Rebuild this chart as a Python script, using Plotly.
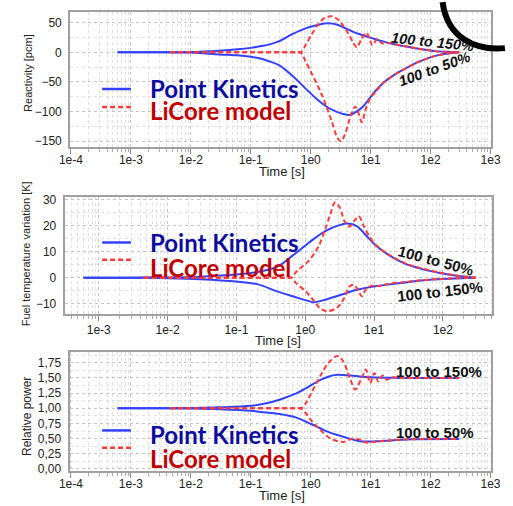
import plotly.graph_objects as go

W, H = 513, 506

# ---------------- data ----------------
# Panel 1: Reactivity [pcm]
react_pk_up_t = [6e-4, 3e-3, 1e-2, 0.03, 0.06, 0.1, 0.15, 0.2, 0.3, 0.5, 0.8, 1.3, 1.9, 2.8, 3.5, 5, 6.6, 9, 12, 16, 22, 30, 42, 60, 80, 120, 180, 300]
react_pk_up_v = [0, 0, 0.5, 2.8, 5, 7.5, 10.5, 13, 19, 31, 40, 46, 49, 46.5, 42, 35, 30.5, 26, 22, 18.5, 15, 12, 9.4, 6.5, 4.5, 2, 0.8, 0]
react_pk_dn_t = [6e-4, 3e-3, 1e-2, 0.03, 0.06, 0.1, 0.15, 0.2, 0.3, 0.5, 0.8, 1.3, 2, 2.8, 3.6, 4.6, 5.8, 7.4, 9.5, 12.3, 16, 22, 30, 42, 60, 80, 120, 180, 300]
react_pk_dn_v = [0, 0, -0.5, -3.5, -5, -7.5, -11, -15, -22, -40, -60, -80, -94, -101, -104.5, -105.5, -100, -92, -78, -64, -52, -41.5, -33, -25, -17, -12, -6, -2.5, 0]
react_lc_up_t = [4.5e-3, 0.1, 0.5, 0.68, 0.81, 1.04, 1.33, 1.7, 2.2, 2.7, 3.2, 4.3, 5.2, 5.9, 7.0, 8.5, 9.5, 10.7, 12.9, 15.5, 20, 30, 42, 60, 80, 120, 180, 300]
react_lc_up_v = [0, 0, 0, 0, 11, 30.5, 47, 58, 61, 57, 50, 30.5, 15, 8.3, 22, 33, 24, 12, 22, 15, 15.5, 12, 9.4, 6.5, 4.5, 2, 0.8, 0]
react_lc_dn_t = [4.5e-3, 0.1, 0.5, 0.68, 0.81, 1.04, 1.5, 2.2, 2.8, 3.2, 3.8, 4.6, 5.5, 6.4, 7.1, 8.5, 10.2, 12.3, 16, 22, 30, 42, 60, 80, 120, 180, 300]
react_lc_dn_v = [0, 0, 0, 0, -14, -36, -69.5, -114, -144.5, -150, -136, -108, -91.7, -105, -118, -92, -75, -66, -52, -41.5, -33, -25, -17, -12, -6, -2.5, 0]

# Panel 2: Fuel temperature variation [K]
temp_pk_up_t = [6e-4, 3e-3, 1e-2, 0.03, 0.1, 0.2, 0.39, 0.66, 1.14, 1.95, 3.3, 4.1, 5.6, 7.8, 10.7, 16.6, 28, 50, 90, 150, 300]
temp_pk_up_v = [0, 0, 0.1, 0.4, 1.2, 2.2, 4.2, 8.6, 13.6, 18, 20.5, 20.9, 19.9, 16.1, 12.3, 8.6, 5.4, 3.3, 1.8, 0.8, 0]
temp_pk_dn_t = [6e-4, 3e-3, 1e-2, 0.03, 0.1, 0.2, 0.39, 0.66, 1.14, 1.34, 1.95, 3.3, 5.6, 9.8, 28, 48, 90, 150, 300]
temp_pk_dn_v = [0, 0, -0.2, -0.6, -1.5, -2.5, -5.3, -7.2, -9.1, -9.5, -8.5, -6.6, -4.7, -3.4, -1.9, -1.1, -0.6, -0.3, 0]
temp_lc_up_t = [4.5e-3, 0.1, 0.5, 0.63, 0.74, 1.14, 1.57, 1.95, 2.3, 2.7, 3.2, 3.7, 4.4, 5.1, 6.0, 7.1, 8.7, 10.7, 16.6, 28, 50, 90, 150, 300]
temp_lc_up_v = [0, 0, 0, 0, 2.3, 6.7, 12.3, 18.7, 24.3, 29, 26.9, 21.8, 19.7, 21.8, 23.7, 19.9, 15.5, 12.5, 8.8, 5.6, 3.5, 2.0, 0.9, 0]
temp_lc_dn_t = [4.5e-3, 0.1, 0.5, 0.63, 0.74, 1.02, 1.35, 1.65, 2.1, 2.95, 3.7, 4.4, 5.1, 6.0, 6.6, 7.8, 9.8, 12, 16, 28, 48, 90, 150, 300]
temp_lc_dn_v = [0, 0, 0, 0, -2.2, -5.3, -9.1, -11.9, -13, -11.4, -7.8, -3.4, -2.8, -5.3, -7.2, -4, -3, -3.2, -2.4, -1.7, -1.0, -0.5, -0.25, 0]

# Panel 3: Relative power
pow_pk_up_t = [6e-4, 3e-3, 1e-2, 0.03, 0.1, 0.2, 0.3, 0.56, 0.9, 1.48, 1.95, 2.75, 4.5, 10, 30, 300]
pow_pk_up_v = [1, 1, 1.005, 1.015, 1.04, 1.09, 1.14, 1.24, 1.35, 1.47, 1.52, 1.55, 1.54, 1.51, 1.5, 1.5]
pow_pk_dn_t = [6e-4, 3e-3, 1e-2, 0.03, 0.1, 0.145, 0.3, 0.56, 1.02, 1.95, 3.5, 6.6, 12.3, 22, 50, 300]
pow_pk_dn_v = [1, 1, 0.995, 0.985, 0.96, 0.94, 0.905, 0.85, 0.74, 0.61, 0.53, 0.457, 0.455, 0.47, 0.49, 0.495]
pow_lc_up_t = [4.5e-3, 0.1, 0.5, 0.68, 0.81, 1.02, 1.48, 1.95, 2.8, 3.5, 4.6, 5.5, 7.1, 8.3, 9.8, 11.5, 13.5, 15.8, 18.6, 22.4, 30, 300]
pow_lc_up_v = [1, 1, 1, 1, 1.07, 1.25, 1.55, 1.74, 1.86, 1.77, 1.47, 1.31, 1.5, 1.64, 1.415, 1.58, 1.44, 1.54, 1.47, 1.51, 1.5, 1.5]
pow_lc_dn_t = [4.5e-3, 0.1, 0.5, 0.68, 0.81, 1.02, 1.48, 2.15, 3.5, 5.0, 6.6, 8.5, 12.3, 20, 50, 300]
pow_lc_dn_v = [1, 1, 1, 1, 0.93, 0.80, 0.635, 0.50, 0.446, 0.50, 0.48, 0.436, 0.45, 0.47, 0.49, 0.495]

# tick labels
x_ticks_full = [1e-4, 1e-3, 1e-2, 1e-1, 1e0, 1e1, 1e2, 1e3]
x_ticktext_full = ["1e-4", "1e-3", "1e-2", "1e-1", "1e0", "1e1", "1e2", "1e3"]
x_ticks_mid = [1e-3, 1e-2, 1e-1, 1e0, 1e1, 1e2]
x_ticktext_mid = ["1e-3", "1e-2", "1e-1", "1e0", "1e1", "1e2"]
react_ticks = [-150, -100, -50, 0, 50]
temp_ticks = [-10, 0, 10, 20, 30]
pow_ticks = [0, 0.25, 0.5, 0.75, 1.0, 1.25, 1.5, 1.75]
pow_ticktext = ["0,00", "0,25", "0,50", "0,75", "1,00", "1,25", "1,50", "1,75"]

legend_labels = ["Point Kinetics", "LiCore model"]

# ---------------- style ----------------
BLUE = "#3340ff"
RED = "#ff3a3a"
TXT_BLUE = "#0c0c9e"
TXT_RED = "#c00000"
GRID = "#c4c4c4"
GRID_MINOR = "#e0e0e0"
FRAME = "#a0a0a0"
TICKFONT = dict(family="Liberation Sans, Arial, sans-serif", size=12, color="#222")


def px(xp):
    return xp / W


def py(yp):
    return 1 - yp / H


minor_log = [k * 10.0 ** d for d in range(-5, 4) for k in range(2, 10)]

fig = go.Figure()

panels = [
    ("x", "y", react_pk_up_t, react_pk_up_v, react_pk_dn_t, react_pk_dn_v,
     react_lc_up_t, react_lc_up_v, react_lc_dn_t, react_lc_dn_v),
    ("x2", "y2", temp_pk_up_t, temp_pk_up_v, temp_pk_dn_t, temp_pk_dn_v,
     temp_lc_up_t, temp_lc_up_v, temp_lc_dn_t, temp_lc_dn_v),
    ("x3", "y3", pow_pk_up_t, pow_pk_up_v, pow_pk_dn_t, pow_pk_dn_v,
     pow_lc_up_t, pow_lc_up_v, pow_lc_dn_t, pow_lc_dn_v),
]

for xa, ya, t1, v1, t2, v2, t3, v3, t4, v4 in panels:
    for t, v in ((t1, v1), (t2, v2)):
        fig.add_trace(go.Scatter(x=t, y=v, mode="lines", xaxis=xa, yaxis=ya,
                                 line=dict(color=BLUE, width=2, shape="spline", smoothing=0.9),
                                 showlegend=False, hoverinfo="skip"))
    for t, v in ((t3, v3), (t4, v4)):
        fig.add_trace(go.Scatter(x=t, y=v, mode="lines", xaxis=xa, yaxis=ya,
                                 line=dict(color=RED, width=2, dash="5px,3px", shape="spline", smoothing=0.9),
                                 showlegend=False, hoverinfo="skip"))


def xaxis(domain, rng, tickvals, ticktext, anchor, standoff):
    return dict(type="log", domain=domain, range=rng, anchor=anchor,
                tickvals=tickvals, ticktext=ticktext, tickfont=TICKFONT,
                showline=True, mirror=True, linecolor=FRAME, linewidth=2,
                showgrid=True, gridcolor=GRID, griddash="dot", gridwidth=1,
                ticks="outside", ticklen=5, tickcolor="#888", tickwidth=1,
                ticklabelstandoff=standoff,
                minor=dict(tickvals=minor_log, showgrid=True, gridcolor=GRID_MINOR,
                           griddash="dot", ticks="outside", ticklen=3, tickcolor="#aaa"),
                zeroline=False, fixedrange=True)


def yaxis(domain, rng, tickvals, ticktext, minorvals, anchor):
    d = dict(domain=domain, range=rng, anchor=anchor, tickvals=tickvals, tickfont=TICKFONT,
             showline=True, mirror=True, linecolor=FRAME, linewidth=2,
             showgrid=True, gridcolor=GRID, griddash="dot", gridwidth=1,
             ticks="", ticklabelstandoff=4,
             minor=dict(tickvals=minorvals, showgrid=True, gridcolor=GRID_MINOR, griddash="dot"),
             zeroline=False, fixedrange=True)
    if ticktext is not None:
        d["ticktext"] = ticktext
    return d


fig.update_layout(
    width=W, height=H, margin=dict(l=0, r=0, t=0, b=0),
    paper_bgcolor="white", plot_bgcolor="white", showlegend=False,
    xaxis=xaxis([px(61.7), px(500.7)], [-4.013, 3.011], x_ticks_full, x_ticktext_full, "y", -4),
    yaxis=yaxis([py(145.7), py(8.3)], [-159.5, 67.8], react_ticks, None, [-125, -75, -25, 25], "x"),
    xaxis2=xaxis([px(56), px(501.7)], [-3.494, 2.715], x_ticks_mid, x_ticktext_mid, "y2", -2),
    yaxis2=yaxis([py(316.7), py(197.3)], [-14.2, 31.0], temp_ticks, None, [-5, 5, 15, 25], "x2"),
    xaxis3=xaxis([px(61), px(500.7)], [-4.024, 3.011], x_ticks_full, x_ticktext_full, "y3", -4),
    yaxis3=yaxis([py(476), py(355)], [-0.027, 1.927], pow_ticks, pow_ticktext,
                 [0.125, 0.375, 0.625, 0.875, 1.125, 1.375, 1.625, 1.875], "x3"),
)

ann = []
TITLEFONT = dict(family="Liberation Sans, Arial, sans-serif", size=12, color="#222")


def text(x, y, s, font, angle=0, xanchor="center", yanchor="middle"):
    ann.append(dict(x=px(x), y=py(y), xref="paper", yref="paper", text=s, showarrow=False,
                    font=font, textangle=angle, xanchor=xanchor, yanchor=yanchor))


# axis titles
text(17, 70, "Reactivity [pcm]", dict(TITLEFONT, size=11), -90)
text(16, 255, "Fuel temperature variation [K]", dict(TITLEFONT, size=11), -90)
text(16, 421, "Relative power", dict(TITLEFONT, size=12), -90)
text(283, 171, "Time [s]", dict(TITLEFONT, size=13))
text(278, 343, "Time [s]", dict(TITLEFONT, size=13))
text(283, 491.5, "Time [s]", dict(TITLEFONT, size=13), 0, "center", "top")

# legends
LEGFONT = dict(family="Lato, sans-serif", size=24, weight="bold")
shapes = []
for yb, yr, ytb, ytr in ((86.7, 105, 86, 109), (243.3, 261, 243, 268.5), (435, 452.7, 439, 464)):
    shapes.append(dict(type="line", xref="paper", yref="paper", x0=px(95), x1=px(125), y0=py(yb), y1=py(yb),
                       line=dict(color=BLUE, width=2.5)))
    shapes.append(dict(type="line", xref="paper", yref="paper", x0=px(95), x1=px(125), y0=py(yr), y1=py(yr),
                       line=dict(color=RED, width=2.5, dash="5px,3px")))
    text(143, ytb, legend_labels[0], dict(LEGFONT, color=TXT_BLUE), 0, "left")
    text(143, ytr, legend_labels[1], dict(LEGFONT, color=TXT_RED), 0, "left")

# curve labels
LBL_IT = dict(family="Liberation Sans, Arial, sans-serif", size=14.5, color="#111",
              weight="bold", style="italic")
LBL = dict(family="Liberation Sans, Arial, sans-serif", size=15, color="#111", weight="bold")
text(440, 39, "100 to 150%", LBL_IT, 6)
text(441.5, 66.5, "100 to 50%", LBL_IT, -20)
text(443, 262, "100 to 50%", LBL, 15)
text(447, 293, "100 to 150%", LBL, -6.5)
text(446, 375, "100 to 150%", LBL, 0)
text(442.5, 437, "100 to 50%", LBL, 0)

# black arc decoration (top right)
shapes.append(dict(type="path", xref="paper", yref="paper",
                   path=f"M {px(450)},{py(-2)} C {px(455)},{py(35)} {px(485)},{py(48)} {px(515)},{py(45)}",
                   line=dict(color="black", width=6)))

fig.update_layout(annotations=ann, shapes=shapes)
fig.write_html("out.html")
